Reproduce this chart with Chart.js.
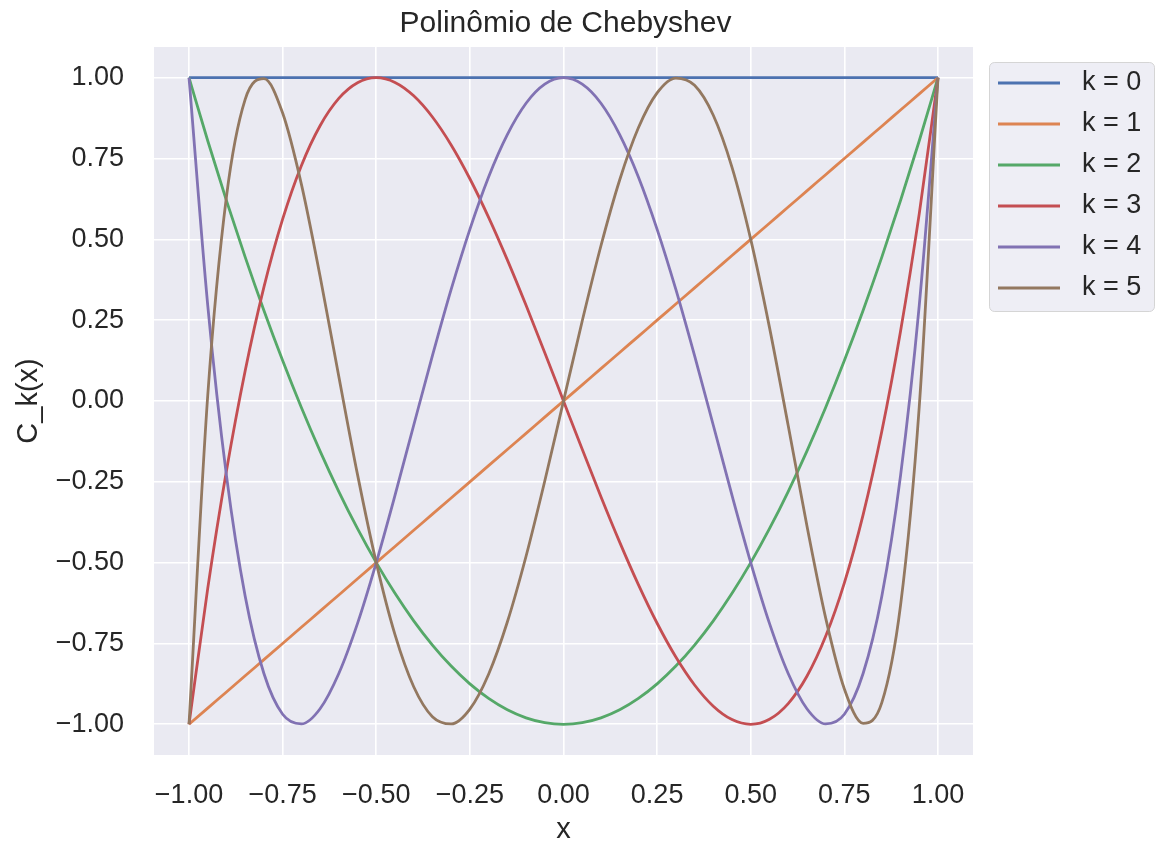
<!DOCTYPE html>
<html>
<head>
  <meta charset="UTF-8">
  <title>Polinômio de Chebyshev</title>
  <style>
    body { margin: 0; background: #ffffff; }
    #chart { display: block; }
  </style>
  <script src="https://cdn.jsdelivr.net/npm/chart.js"></script>
</head>
<body>
  <canvas id="chart" width="1157" height="848"></canvas>
  <script>
    // x sample points, -1 .. 1
    const xs = [-1, -0.95, -0.9, -0.85, -0.8, -0.75, -0.7, -0.65, -0.6, -0.55, -0.5,
      -0.45, -0.4, -0.35, -0.3, -0.25, -0.2, -0.15, -0.1, -0.05, 0,
      0.05, 0.1, 0.15, 0.2, 0.25, 0.3, 0.35, 0.4, 0.45, 0.5,
      0.55, 0.6, 0.65, 0.7, 0.75, 0.8, 0.85, 0.9, 0.95, 1];

    const k0 = [1, 1, 1, 1, 1, 1, 1, 1, 1, 1, 1, 1, 1, 1, 1, 1, 1, 1, 1, 1, 1,
      1, 1, 1, 1, 1, 1, 1, 1, 1, 1, 1, 1, 1, 1, 1, 1, 1, 1, 1, 1];
    const k1 = [-1, -0.95, -0.9, -0.85, -0.8, -0.75, -0.7, -0.65, -0.6, -0.55, -0.5,
      -0.45, -0.4, -0.35, -0.3, -0.25, -0.2, -0.15, -0.1, -0.05, 0,
      0.05, 0.1, 0.15, 0.2, 0.25, 0.3, 0.35, 0.4, 0.45, 0.5,
      0.55, 0.6, 0.65, 0.7, 0.75, 0.8, 0.85, 0.9, 0.95, 1];
    const k2 = [1, 0.805, 0.62, 0.445, 0.28, 0.125, -0.02, -0.155, -0.28, -0.395, -0.5,
      -0.595, -0.68, -0.755, -0.82, -0.875, -0.92, -0.955, -0.98, -0.995, -1,
      -0.995, -0.98, -0.955, -0.92, -0.875, -0.82, -0.755, -0.68, -0.595, -0.5,
      -0.395, -0.28, -0.155, -0.02, 0.125, 0.28, 0.445, 0.62, 0.805, 1];
    const k3 = [-1, -0.5795, -0.216, 0.0935, 0.352, 0.5625, 0.728, 0.8515, 0.936, 0.9845, 1,
      0.9855, 0.944, 0.8785, 0.792, 0.6875, 0.568, 0.4365, 0.296, 0.1495, 0,
      -0.1495, -0.296, -0.4365, -0.568, -0.6875, -0.792, -0.8785, -0.944, -0.9855, -1,
      -0.9845, -0.936, -0.8515, -0.728, -0.5625, -0.352, -0.0935, 0.216, 0.5795, 1];
    const k4 = [1, 0.296, -0.231, -0.604, -0.843, -0.969, -0.999, -0.952, -0.843, -0.688, -0.5,
      -0.292, -0.075, 0.14, 0.345, 0.531, 0.693, 0.824, 0.921, 0.98, 1,
      0.98, 0.921, 0.824, 0.693, 0.531, 0.345, 0.14, -0.075, -0.292, -0.5,
      -0.688, -0.843, -0.952, -0.999, -0.969, -0.843, -0.604, -0.231, 0.296, 1];
    const k5 = [-1, 0.017, 0.6322, 0.9332, 0.9971, 0.8906, 0.6709, 0.386, 0.0758, -0.2278, -0.5,
      -0.7227, -0.8838, -0.9765, -0.9989, -0.9531, -0.8451, -0.6837, -0.4802, -0.2475, 0,
      0.2475, 0.4802, 0.6837, 0.8451, 0.9531, 0.9989, 0.9765, 0.8838, 0.7227, 0.5,
      0.2278, -0.0758, -0.386, -0.6709, -0.8906, -0.9971, -0.9332, -0.6322, -0.017, 1];

    const seriesLabels = ['k = 0', 'k = 1', 'k = 2', 'k = 3', 'k = 4', 'k = 5'];
    const seriesValues = [k0, k1, k2, k3, k4, k5];
    const colors = ['#4c72b0', '#dd8452', '#55a868', '#c44e52', '#8172b3', '#937860'];

    const xTicks = [-1, -0.75, -0.5, -0.25, 0, 0.25, 0.5, 0.75, 1];
    const yTicks = [-1, -0.75, -0.5, -0.25, 0, 0.25, 0.5, 0.75, 1];

    const FONT = '"Liberation Sans", Arial, sans-serif';
    const TEXT = '#262626';
    const fmt = v => v.toFixed(2).replace('-', '\u2212');

    const datasets = seriesValues.map((vals, i) => ({
      label: seriesLabels[i],
      data: xs.map((x, j) => ({ x: x, y: vals[j] })),
      borderColor: colors[i],
      backgroundColor: colors[i],
      borderWidth: 2.8,
      pointRadius: 0,
      cubicInterpolationMode: 'monotone',
      order: seriesValues.length - i
    }));

    // grey plot background + title centred over the plot
    const plotBg = {
      id: 'plotBg',
      beforeDraw(chart) {
        const { ctx, chartArea: a } = chart;
        ctx.save();
        ctx.fillStyle = '#eaeaf2';
        ctx.fillRect(a.left, a.top, a.right - a.left, a.bottom - a.top);
        ctx.font = '30px ' + FONT;
        ctx.fillStyle = TEXT;
        ctx.textAlign = 'center';
        ctx.textBaseline = 'alphabetic';
        ctx.fillText('Polinômio de Chebyshev', (a.left + a.right) / 2 + 2, 32);
        ctx.restore();
      }
    };

    // legend box outside the plot, matplotlib style
    const boxLegend = {
      id: 'boxLegend',
      afterDraw(chart) {
        const ctx = chart.ctx;
        const left = 989, top = 62, w = 165, rowH = 41;
        const h = rowH * chart.data.datasets.length + 3;
        ctx.save();
        ctx.beginPath();
        ctx.roundRect(left + 0.5, top + 0.5, w, h, 5);
        ctx.fillStyle = 'rgba(234,234,242,0.8)';
        ctx.fill();
        ctx.strokeStyle = 'rgba(204,204,204,0.8)';
        ctx.lineWidth = 1;
        ctx.stroke();
        ctx.font = '27px ' + FONT;
        ctx.textBaseline = 'middle';
        ctx.fillStyle = TEXT;
        chart.data.datasets.forEach((ds, i) => {
          const y = top + 21 + i * rowH;
          ctx.beginPath();
          ctx.moveTo(998, y);
          ctx.lineTo(1060, y);
          ctx.strokeStyle = ds.borderColor;
          ctx.lineWidth = 2.8;
          ctx.stroke();
          ctx.fillText(ds.label, 1082, y);
        });
        ctx.restore();
      }
    };

    new Chart(document.getElementById('chart').getContext('2d'), {
      type: 'line',
      data: { datasets },
      plugins: [plotBg, boxLegend],
      options: {
        responsive: false,
        animation: false,
        layout: { padding: { top: 47, right: 184, bottom: 0, left: 0 } },
        plugins: {
          legend: { display: false },
          tooltip: { enabled: false },
          title: { display: false }
        },
        scales: {
          x: {
            type: 'linear',
            min: -1.0935,
            max: 1.0935,
            afterBuildTicks: s => { s.ticks = xTicks.map(v => ({ value: v })); },
            afterFit: s => { s.height = 93; },
            ticks: {
              callback: v => fmt(v),
              color: TEXT,
              font: { family: FONT, size: 27 },
              padding: 24,
              maxRotation: 0,
              autoSkip: false
            },
            grid: { color: '#ffffff', lineWidth: 1.6, drawTicks: false },
            border: { display: false },
            title: {
              display: true,
              text: 'x',
              color: TEXT,
              font: { family: FONT, size: 29 },
              padding: { top: 0, bottom: 1 }
            }
          },
          y: {
            min: -1.095,
            max: 1.095,
            afterBuildTicks: s => { s.ticks = yTicks.map(v => ({ value: v })); },
            afterFit: s => { s.width = 154; },
            ticks: {
              callback: v => fmt(v),
              color: TEXT,
              font: { family: FONT, size: 27 },
              padding: 30,
              autoSkip: false
            },
            grid: { color: '#ffffff', lineWidth: 1.6, drawTicks: false },
            border: { display: false },
            title: {
              display: true,
              text: 'C_k(x)',
              color: TEXT,
              font: { family: FONT, size: 29 },
              padding: { top: 12, bottom: 0 }
            }
          }
        }
      }
    });
  </script>
</body>
</html>
